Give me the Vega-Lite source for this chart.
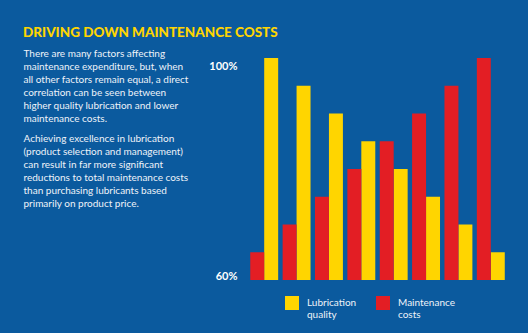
{
  "$schema": "https://vega.github.io/schema/vega-lite/v6.json",
  "width": 259,
  "height": 222,
  "autosize": {"type": "none"},
  "padding": {"left": 248, "top": 58, "right": 21, "bottom": 53},
  "background": "#0b5a9e",
  "config": {"view": {"stroke": null}, "font": "Lato"},
  "title": {
    "text": "DRIVING DOWN MAINTENANCE COSTS",
    "anchor": "start",
    "frame": "group",
    "dx": -225,
    "dy": 23,
    "offset": 21,
    "baseline": "alphabetic",
    "color": "#FFD500",
    "font": "Lato",
    "fontWeight": 900,
    "fontSize": 13.5
  },
  "data": {
    "values": [
      {"group": 1, "series": "Lubrication quality", "value": 100},
      {"group": 2, "series": "Lubrication quality", "value": 95},
      {"group": 3, "series": "Lubrication quality", "value": 90},
      {"group": 4, "series": "Lubrication quality", "value": 85},
      {"group": 5, "series": "Lubrication quality", "value": 80},
      {"group": 6, "series": "Lubrication quality", "value": 75},
      {"group": 7, "series": "Lubrication quality", "value": 70},
      {"group": 8, "series": "Lubrication quality", "value": 65},
      {"group": 1, "series": "Maintenance costs", "value": 65},
      {"group": 2, "series": "Maintenance costs", "value": 70},
      {"group": 3, "series": "Maintenance costs", "value": 75},
      {"group": 4, "series": "Maintenance costs", "value": 80},
      {"group": 5, "series": "Maintenance costs", "value": 85},
      {"group": 6, "series": "Maintenance costs", "value": 90},
      {"group": 7, "series": "Maintenance costs", "value": 95},
      {"group": 8, "series": "Maintenance costs", "value": 100}
    ]
  },
  "mark": {"type": "bar"},
  "encoding": {
    "x": {
      "field": "group",
      "type": "ordinal",
      "scale": {"paddingInner": 0.137, "paddingOuter": 0.069},
      "axis": {
        "labels": false,
        "ticks": false,
        "domain": false,
        "title": [
          "Achieving excellence in lubrication",
          "(product selection and management)",
          "can result in far more significant",
          "reductions to total maintenance costs",
          "than purchasing lubricants based",
          "primarily on product price."
        ],
        "titleX": -225,
        "titleY": -147,
        "titleAngle": 0,
        "titleAlign": "left",
        "titleBaseline": "top",
        "titleColor": "#eef3f9",
        "titleFont": "Lato",
        "titleFontSize": 10,
        "titleFontWeight": "normal",
        "titleLineHeight": 13
      }
    },
    "xOffset": {"field": "series", "sort": ["Maintenance costs", "Lubrication quality"]},
    "y": {
      "field": "value",
      "type": "quantitative",
      "scale": {"domain": [60, 100], "zero": false, "nice": false},
      "axis": {
        "values": [60, 100],
        "labelExpr": "datum.value + '%'",
        "grid": false,
        "ticks": false,
        "domain": false,
        "labelPadding": 11,
        "labelColor": "white",
        "labelFont": "Lato",
        "labelFontWeight": "bold",
        "labelFontSize": 11,
        "labelOffset": {"condition": {"test": "datum.value == 100", "value": 8}, "value": -4},
        "title": [
          "There are many factors affecting",
          "maintenance expenditure, but, when",
          "all other factors remain equal, a direct",
          "correlation can be seen between",
          "higher quality lubrication and lower",
          "maintenance costs."
        ],
        "titleX": -225,
        "titleY": -10,
        "titleAngle": 0,
        "titleAlign": "left",
        "titleBaseline": "top",
        "titleColor": "#eef3f9",
        "titleFont": "Lato",
        "titleFontSize": 10,
        "titleFontWeight": "normal",
        "titleLineHeight": 13
      }
    },
    "y2": {"datum": 60},
    "color": {
      "field": "series",
      "type": "nominal",
      "scale": {"domain": ["Lubrication quality", "Maintenance costs"], "range": ["#FFD500", "#E31E24"]},
      "legend": {
        "title": null,
        "orient": "none",
        "legendX": 37,
        "legendY": 238,
        "direction": "horizontal",
        "symbolType": "square",
        "symbolSize": 196,
        "symbolStrokeWidth": 0,
        "symbolOpacity": 1,
        "labelColor": "#eef3f9",
        "labelFont": "Lato",
        "labelFontSize": 10,
        "labelOffset": 8,
        "labelExpr": "split(datum.label, ' ')",
        "columnPadding": 19
      }
    }
  }
}
